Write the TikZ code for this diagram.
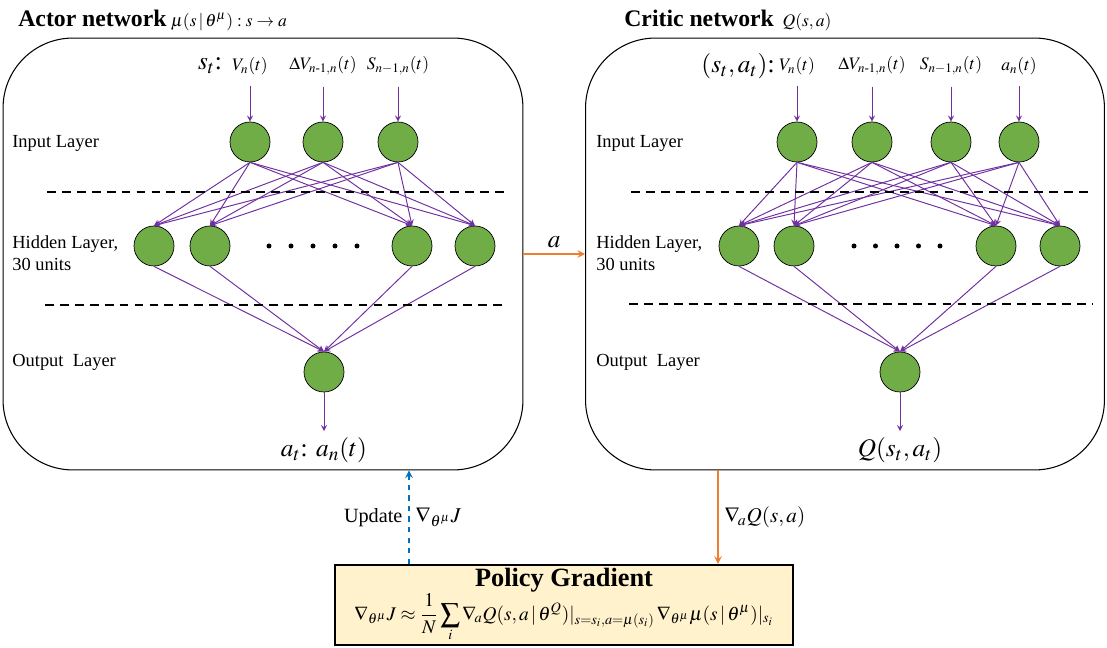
\documentclass[tikz,border=0pt]{standalone}
\usepackage{amsmath}
\usepackage{mathptmx}
\usepackage{fontspec}
\setmainfont{Liberation Serif}
\usepackage{tikz}
\usetikzlibrary{calc}
\definecolor{net_green}{HTML}{70AD47}
\definecolor{net_purple}{HTML}{7030A0}
\definecolor{link_orange}{HTML}{ED7D31}
\definecolor{update_blue}{HTML}{0070C0}
\definecolor{pg_yellow}{HTML}{FFF2CC}

\begin{document}
\begin{tikzpicture}[x=0.02cm,y=-0.02cm,>=stealth,
    neuron/.style={circle,draw=black,fill=net_green,minimum size=0.8cm,inner sep=0pt},
    edge/.style={->,net_purple,line width=0.55pt},
    netbox/.style={draw,rounded corners=1.4cm,minimum width=10.4cm,minimum height=8.64cm,line width=0.6pt},
    sep/.style={line width=0.9pt,dash pattern=on 5pt off 3.5pt},
    layer/.style={anchor=west,font=\fontsize{10.5}{12.5}\selectfont,align=left,inner sep=0pt}]

    \useasboundingbox (0,0) rectangle (1107,648);

    % Les deux cadres
    \node[netbox] (actor) at (263,254) {};
    \node[netbox,minimum width=10.38cm] (critic) at (845,254) {};

    % Titres
    \node[anchor=west,inner sep=0pt] (actortitle) at (18,20) {{\fontsize{13.5}{15}\selectfont\bfseries Actor network} $\mu(s\,|\,\theta^\mu):s\to a$};
    \node[anchor=west,inner sep=0pt] (critictitle) at (624,20) {{\fontsize{13.5}{15}\selectfont\bfseries Critic network} \ $Q(s,a)$};

    % Acteur : entrées
    \node (ast) at (210,66) {\Large $s_t$:};
    \node (av) at (250,66) {$V_n(t)$};
    \node (adv) at (323,66) {$\Delta V_{n\text{-}1,n}(t)$};
    \node (as) at (398,66) {$S_{n-1,n}(t)$};
    \node[neuron] (ai1) at (250,142) {};
    \node[neuron] (ai2) at (323,142) {};
    \node[neuron] (ai3) at (398,142) {};
    \draw[edge,shorten <=3pt] (av) -- (ai1);
    \draw[edge,shorten <=3pt] (adv) -- (ai2);
    \draw[edge,shorten <=3pt] (as) -- (ai3);

    % Acteur : couche cachée et sortie
    \node[neuron] (ah1) at (154,246) {};
    \node[neuron] (ah2) at (210,246) {};
    \node[neuron] (ah3) at (412,246) {};
    \node[neuron] (ah4) at (475,246) {};
    \foreach \k in {0,...,4} \fill ({269+\k*22},246) circle (0.05cm);
    \node[neuron] (ao) at (324,372) {};
    \node (aat) at (324,450) {\Large $a_t$: $a_n(t)$};
    \foreach \i in {1,2,3}
        \foreach \h in {1,...,4}
            \draw[edge] (ai\i.south) -- (ah\h.north);
    \foreach \h in {1,...,4}
        \draw[edge] (ah\h.south) -- (ao.north);
    \draw[edge] (ao) -- (aat);

    % Acteur : séparations et noms des couches
    \draw[sep] (47,192) -- (505,192);
    \draw[sep] (45,305) -- (507,305);
    \node[layer] (ain) at (12,143) {Input Layer};
    \node[layer] (ahid) at (12,253) {Hidden Layer,\\30 units};
    \node[layer] (aoutl) at (12,362) {Output\ \ Layer};

    % Critique : entrées
    \node (cst) at (738,66) {\Large $(s_t,a_t)$:};
    \node (cv) at (797,66) {$V_n(t)$};
    \node (cdv) at (872,66) {$\Delta V_{n\text{-}1,n}(t)$};
    \node (cs) at (951,66) {$S_{n-1,n}(t)$};
    \node (ca) at (1019,66) {$a_n(t)$};
    \node[neuron] (ci1) at (797,142) {};
    \node[neuron] (ci2) at (872,142) {};
    \node[neuron] (ci3) at (951,142) {};
    \node[neuron] (ci4) at (1019,142) {};
    \draw[edge,shorten <=3pt] (cv) -- (ci1);
    \draw[edge,shorten <=3pt] (cdv) -- (ci2);
    \draw[edge,shorten <=3pt] (cs) -- (ci3);
    \draw[edge,shorten <=3pt] (ca) -- (ci4);

    % Critique : couche cachée et sortie
    \node[neuron] (ch1) at (739,246) {};
    \node[neuron] (ch2) at (794,246) {};
    \node[neuron] (ch3) at (996,246) {};
    \node[neuron] (ch4) at (1060,246) {};
    \foreach \k in {0,...,4} \fill ({854+\k*21.5},246) circle (0.05cm);
    \node[neuron] (co) at (900,372) {};
    \node (cq) at (900,450) {\Large $Q(s_t,a_t)$};
    \foreach \i in {1,...,4}
        \foreach \h in {1,...,4}
            \draw[edge] (ci\i.south) -- (ch\h.north);
    \foreach \h in {1,...,4}
        \draw[edge] (ch\h.south) -- (co.north);
    \draw[edge] (co) -- (cq);

    % Critique : séparations et noms des couches
    \draw[sep] (631,192) -- (1088,192);
    \draw[sep] (629,304) -- (1092,304);
    \node[layer] (cin) at (596,143) {Input Layer};
    \node[layer] (chid) at (596,253) {Hidden Layer,\\30 units};
    \node[layer] (coutl) at (596,362) {Output\ \ Layer};

    % Gradient de la politique
    \node[draw,line width=1.3pt,fill=pg_yellow,minimum width=9.16cm,minimum height=1.6cm,align=center,inner sep=1pt] (pg) at (564,605)
        {{\fontsize{15}{17}\selectfont\bfseries Policy Gradient}\\[0pt]
         \fontsize{11}{13}\selectfont$\displaystyle \nabla_{\theta^\mu} J\approx\frac{1}{N}\sum_i\nabla_{\!a}Q(s,a\,|\,\theta^Q)|_{s=s_i,a=\mu(s_i)}\,\nabla_{\theta^\mu}\mu(s\,|\,\theta^\mu)|_{s_i}$};

    % Liaisons entre les blocs
    \coordinate (qx) at (718,0);
    \coordinate (ux) at (409,0);
    \draw[->,link_orange,line width=0.9pt] (actor.east) -- (critic.west) node[midway,above,text=black] {\Large $a$};
    \draw[->,link_orange,line width=0.9pt] (critic.south -| qx) -- (pg.north -| qx) node[midway,right,text=black] {\large $\nabla_{\!a}Q(s,a)$};
    \draw[->,update_blue,dashed,line width=0.9pt] (pg.north -| ux) -- (actor.south -| ux)
        node[midway,left,text=black,font=\fontsize{11.5}{13}\selectfont] {Update} node[midway,right,text=black] {\large $\nabla_{\theta^\mu}J$};
\end{tikzpicture}
\end{document}
